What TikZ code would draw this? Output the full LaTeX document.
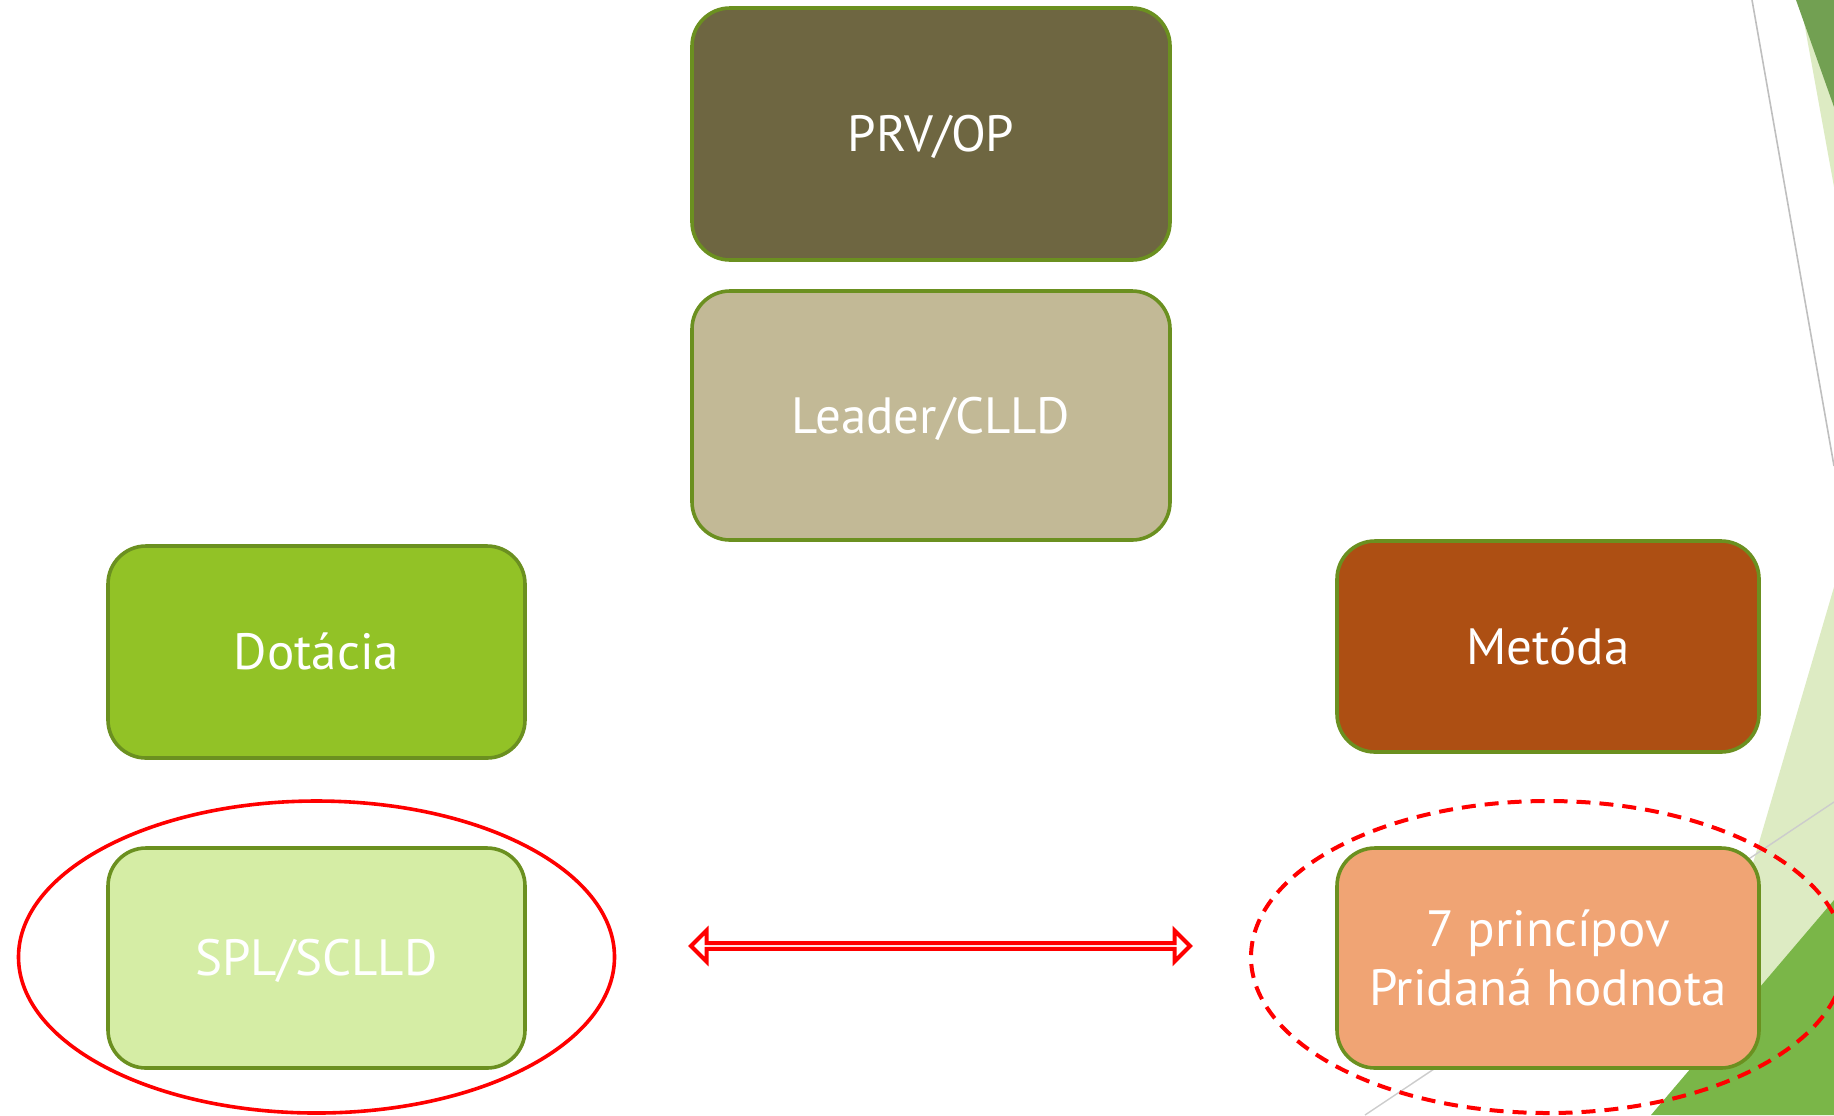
\documentclass[tikz,border=0pt]{standalone}
\usepackage{fontspec}
\setmainfont{PT Sans}
\usetikzlibrary{shapes.geometric,shapes.arrows}

\definecolor{boxrim}{HTML}{6B9020}
\definecolor{prvfill}{HTML}{6E6641}
\definecolor{leaderfill}{HTML}{C2B996}
\definecolor{dotfill}{HTML}{92C226}
\definecolor{metfill}{HTML}{AD4F13}
\definecolor{splfill}{HTML}{D5EDA5}
\definecolor{princfill}{HTML}{F0A474}
\definecolor{leafpale}{HTML}{DDEBC3}
\definecolor{leafdark}{HTML}{72A052}
\definecolor{leafmid}{HTML}{7AB648}

\begin{document}
\begin{tikzpicture}[x=0.5pt,y=-0.5pt,
  box/.style={rectangle,rounded corners=19pt,draw=boxrim,line width=1.8pt,
    text=white,font=\fontsize{25.5}{29.5}\selectfont,align=center,inner sep=0pt,
    text height=17.9pt,text depth=0pt},
  ring/.style={ellipse,draw=red,line width=1.8pt,inner sep=0pt}]
\clip (0,0) rectangle (1834,1115);

% corner decoration
\fill[leafpale] (1800,0)--(1834,0)--(1834,187)--cycle;
\fill[leafdark] (1796,0)--(1834,0)--(1834,107)--cycle;
\draw[gray!50,line width=0.8pt] (1752,0)--(1834,466);
\fill[leafpale] (1834,587)--(1679,1115)--(1834,1115)--cycle;
\fill[leafmid] (1834,900)--(1651,1115)--(1834,1115)--cycle;
\draw[gray!40,line width=0.7pt] (1834,802)--(1365,1115);

\node[box,fill=prvfill,minimum width=239pt,minimum height=126pt] (prv) at (931,134) {PRV/OP};
\node[box,fill=leaderfill,minimum width=239pt,minimum height=124.5pt] (leader) at (931,415.5) {Leader/CLLD};
\node[box,fill=dotfill,minimum width=208.5pt,minimum height=106pt] (dotacia) at (316.5,652) {Dotácia};
\node[box,fill=metfill,minimum width=211pt,minimum height=105.5pt] (metoda) at (1548,646.5) {Metóda};
\node[box,fill=splfill,minimum width=208.5pt,minimum height=110pt] (spl) at (316.5,958) {SPL/SCLLD};
\node[box,fill=princfill,minimum width=211pt,minimum height=110pt,text height=47.4pt] (princ) at (1548,958) {7 princípov\\Pridaná hodnota};

\node[ring,minimum width=298pt,minimum height=156pt] (splring) at (316.5,957) {};
\node[ring,dash pattern=on 7pt off 4.5pt,line width=2pt,minimum width=297pt,minimum height=156pt] (princring) at (1548,957) {};

\node[double arrow,draw=red,line width=2pt,inner sep=0pt,minimum height=249.5pt,minimum width=15.5pt,
  double arrow head extend=4.25pt] (link) at (940.5,946) {};

\end{tikzpicture}
\end{document}
